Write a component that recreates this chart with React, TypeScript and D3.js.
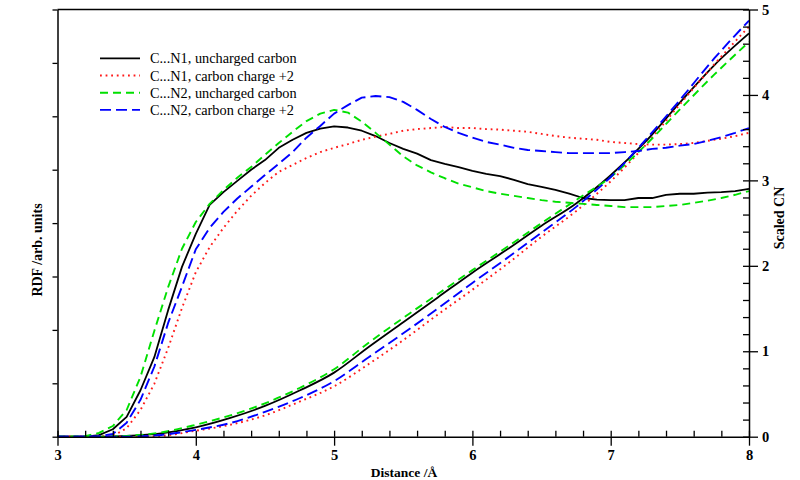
import React, { useEffect, useRef } from "react";
import * as d3 from "d3";

// RDF grid (Å), 0.1 step
const rdfDistance = [
  3.0, 3.1, 3.2, 3.3, 3.4, 3.5, 3.6, 3.7, 3.8, 3.9,
  4.0, 4.1, 4.2, 4.3, 4.4, 4.5, 4.6, 4.7, 4.8, 4.9,
  5.0, 5.1, 5.2, 5.3, 5.4, 5.5, 5.6, 5.7, 5.8, 5.9,
  6.0, 6.1, 6.2, 6.3, 6.4, 6.5, 6.6, 6.7, 6.8, 6.9,
  7.0, 7.1, 7.2, 7.3, 7.4, 7.5, 7.6, 7.7, 7.8, 7.9, 8.0,
];

const rdfN1Uncharged = [
  0, 0, 0, 0.03, 0.14, 0.37, 0.87, 1.49, 2.37, 3.18,
  3.8, 4.34, 4.58, 4.79, 5.0, 5.18, 5.41, 5.56, 5.69, 5.77,
  5.81, 5.79, 5.73, 5.63, 5.5, 5.39, 5.3, 5.18, 5.11, 5.05,
  4.98, 4.92, 4.88, 4.81, 4.73, 4.68, 4.62, 4.55, 4.47, 4.44,
  4.43, 4.43, 4.47, 4.47, 4.53, 4.55, 4.55, 4.57, 4.58, 4.6, 4.64,
];

const rdfN1Charged = [
  0, 0, 0, 0, 0.01, 0.16, 0.5, 0.99, 1.66, 2.41,
  3.08, 3.55, 3.91, 4.23, 4.51, 4.75, 4.96, 5.09, 5.22, 5.33,
  5.41, 5.48, 5.56, 5.62, 5.67, 5.73, 5.76, 5.78, 5.8, 5.78,
  5.78, 5.76, 5.75, 5.73, 5.71, 5.67, 5.63, 5.6, 5.58, 5.56,
  5.52, 5.5, 5.48, 5.47, 5.47, 5.48, 5.5, 5.54, 5.58, 5.63, 5.69,
];

const rdfN2Uncharged = [
  0, 0, 0.01, 0.07, 0.2, 0.5, 1.12, 1.98, 2.8, 3.52,
  4.02, 4.36, 4.62, 4.85, 5.05, 5.28, 5.5, 5.71, 5.91, 6.05,
  6.12, 6.07, 5.9, 5.69, 5.47, 5.25, 5.08, 4.95, 4.84, 4.74,
  4.67, 4.6, 4.55, 4.51, 4.47, 4.43, 4.4, 4.38, 4.36, 4.34,
  4.32, 4.3, 4.3, 4.3, 4.32, 4.34, 4.38, 4.42, 4.47, 4.53, 4.6,
];

const rdfN2Charged = [
  0, 0, 0, 0.01, 0.05, 0.26, 0.69, 1.31, 2.13, 2.81,
  3.51, 3.91, 4.21, 4.46, 4.68, 4.9, 5.11, 5.33, 5.6, 5.82,
  6.05, 6.21, 6.35, 6.38, 6.36, 6.27, 6.12, 5.95, 5.8, 5.69,
  5.6, 5.52, 5.47, 5.41, 5.37, 5.35, 5.33, 5.31, 5.31, 5.31,
  5.31, 5.33, 5.35, 5.39, 5.41, 5.45, 5.48, 5.54, 5.61, 5.69, 5.78,
];

// Coordination number grid (Å), 0.25 step
const cnDistance = [
  3.0, 3.25, 3.5, 3.75, 4.0, 4.25, 4.5, 4.75, 5.0, 5.25, 5.5,
  5.75, 6.0, 6.25, 6.5, 6.75, 7.0, 7.25, 7.5, 7.75, 8.0,
];
const cnN1Uncharged = [0, 0, 0.01, 0.04, 0.11, 0.22, 0.36, 0.54, 0.75, 1.05, 1.34, 1.63, 1.92, 2.19, 2.47, 2.73, 3.06, 3.45, 3.91, 4.35, 4.72];
const cnN1Charged = [0, 0, 0, 0.01, 0.07, 0.14, 0.25, 0.41, 0.59, 0.85, 1.13, 1.43, 1.72, 2.02, 2.34, 2.64, 2.99, 3.41, 3.89, 4.36, 4.8];
const cnN2Uncharged = [0, 0, 0.01, 0.05, 0.14, 0.25, 0.39, 0.57, 0.79, 1.1, 1.39, 1.67, 1.95, 2.22, 2.5, 2.77, 3.04, 3.41, 3.83, 4.24, 4.62];
const cnN2Charged = [0, 0, 0, 0.02, 0.08, 0.16, 0.29, 0.45, 0.65, 0.93, 1.21, 1.5, 1.8, 2.09, 2.39, 2.69, 3.04, 3.47, 3.94, 4.43, 4.87];

const seriesLabels = [
  "C...N1, uncharged carbon",
  "C...N1, carbon charge +2",
  "C...N2, uncharged carbon",
  "C...N2, carbon charge +2",
];
const xTicks = [3, 4, 5, 6, 7, 8];
const cnTicks = [0, 1, 2, 3, 4, 5];

const FONT = "'Liberation Serif', 'Times New Roman', serif";

const styles = [
  { color: "#000000", dash: null, width: 1.8 },
  { color: "#ff1a1a", dash: "1.8,3.8", width: 1.9 },
  { color: "#00e000", dash: "8,5", width: 1.9 },
  { color: "#0000ff", dash: "11,5", width: 1.9 },
];

export default function App() {
  const svgRef = useRef<SVGSVGElement>(null);

  useEffect(() => {
    if (!svgRef.current) return;
    const svg = d3.select(svgRef.current);
    svg.selectAll("*").remove();

    const left = 57.5;
    const right = 749;
    const top = 9.5;
    const bottom = 436.7;

    const x = d3.scaleLinear().domain([3, 8]).range([left, right]);
    const yRdf = d3.scaleLinear().domain([0, 8]).range([bottom, top]);
    const yCn = d3.scaleLinear().domain([0, 5]).range([bottom, top]);

    const rdfSeries = [rdfN1Uncharged, rdfN1Charged, rdfN2Uncharged, rdfN2Charged];
    const cnSeries = [cnN1Uncharged, cnN1Charged, cnN2Uncharged, cnN2Charged];

    // Frame top line
    svg.append("line")
      .attr("x1", left).attr("x2", right)
      .attr("y1", top).attr("y2", top)
      .attr("stroke", "#000").attr("stroke-width", 1.5);

    // Curves
    const rdfLine = d3.line<number>()
      .x((_, i) => x(rdfDistance[i]))
      .y((d) => yRdf(d))
      .curve(d3.curveLinear);
    const cnLine = d3.line<number>()
      .x((_, i) => x(cnDistance[i]))
      .y((d) => yCn(d))
      .curve(d3.curveMonotoneX);

    [0, 1, 2, 3].forEach((k) => {
      const s = styles[k];
      [rdfLine(rdfSeries[k]), cnLine(cnSeries[k])].forEach((dStr) => {
        svg.append("path")
          .attr("d", dStr as string)
          .attr("fill", "none")
          .attr("stroke", s.color)
          .attr("stroke-width", s.width)
          .attr("stroke-dasharray", s.dash)
          .attr("stroke-linejoin", "round");
      });
    });

    const styleAxis = (g: d3.Selection<SVGGElement, unknown, null, undefined>) => {
      g.select(".domain").attr("stroke-width", 1.5);
      g.selectAll(".tick line").attr("stroke-width", 1.3);
      g.selectAll(".tick text")
        .attr("font-family", FONT)
        .attr("font-weight", "bold")
        .attr("font-size", 14.5)
        .attr("fill", "#000");
    };

    // Bottom axis: minor ticks inside, major outside
    svg.append("g")
      .attr("transform", `translate(0,${bottom})`)
      .call(d3.axisBottom(x).tickValues(d3.range(3, 8.001, 0.2)).tickSize(-6).tickFormat(() => ""))
      .call((g) => g.select(".domain").remove())
      .call((g) => g.selectAll(".tick line").attr("stroke-width", 1.3));
    svg.append("g")
      .attr("transform", `translate(0,${bottom})`)
      .call(d3.axisBottom(x).tickValues(xTicks).tickSize(9).tickSizeOuter(0).tickPadding(4).tickFormat(d3.format("d")))
      .call(styleAxis);

    // Left axis (RDF), no labels
    svg.append("g")
      .attr("transform", `translate(${left},0)`)
      .call(d3.axisLeft(yRdf).tickValues(d3.range(0, 9, 1)).tickSize(5).tickSizeOuter(0).tickFormat(() => ""))
      .call(styleAxis);

    // Right axis (CN)
    svg.append("g")
      .attr("transform", `translate(${right},0)`)
      .call(d3.axisRight(yCn).tickValues(d3.range(0, 5.001, 0.2)).tickSize(-6).tickFormat(() => ""))
      .call((g) => g.select(".domain").remove())
      .call((g) => g.selectAll(".tick line").attr("stroke-width", 1.3));
    svg.append("g")
      .attr("transform", `translate(${right},0)`)
      .call(d3.axisRight(yCn).tickValues(cnTicks).tickSize(9).tickSizeOuter(0).tickPadding(4).tickFormat(d3.format("d")))
      .call(styleAxis);

    // Axis titles
    svg.append("text")
      .attr("x", 404).attr("y", 477)
      .attr("text-anchor", "middle")
      .attr("font-family", FONT).attr("font-weight", "bold").attr("font-size", 13.5)
      .text("Distance /Å");
    svg.append("text")
      .attr("transform", "translate(42,250) rotate(-90)")
      .attr("text-anchor", "middle")
      .attr("font-family", FONT).attr("font-weight", "bold").attr("font-size", 14)
      .text("RDF /arb. units");
    svg.append("text")
      .attr("transform", "translate(784,218) rotate(-90)")
      .attr("text-anchor", "middle")
      .attr("font-family", FONT).attr("font-weight", "bold").attr("font-size", 14)
      .text("Scaled CN");

    // Legend
    const legend = svg.append("g");
    seriesLabels.forEach((label, i) => {
      const yy = 58.3 + i * 17.2;
      const s = styles[i];
      legend.append("line")
        .attr("x1", 100).attr("x2", 140)
        .attr("y1", yy).attr("y2", yy)
        .attr("stroke", s.color)
        .attr("stroke-width", s.width)
        .attr("stroke-dasharray", s.dash);
      legend.append("text")
        .attr("x", 150).attr("y", yy)
        .attr("dy", "0.35em")
        .attr("font-family", FONT).attr("font-size", 14.3)
        .text(label);
    });
  }, []);

  return (
    <svg
      ref={svgRef}
      width={800}
      height={480}
      style={{ position: "absolute", left: 0, top: 0, background: "#fff" }}
    />
  );
}
